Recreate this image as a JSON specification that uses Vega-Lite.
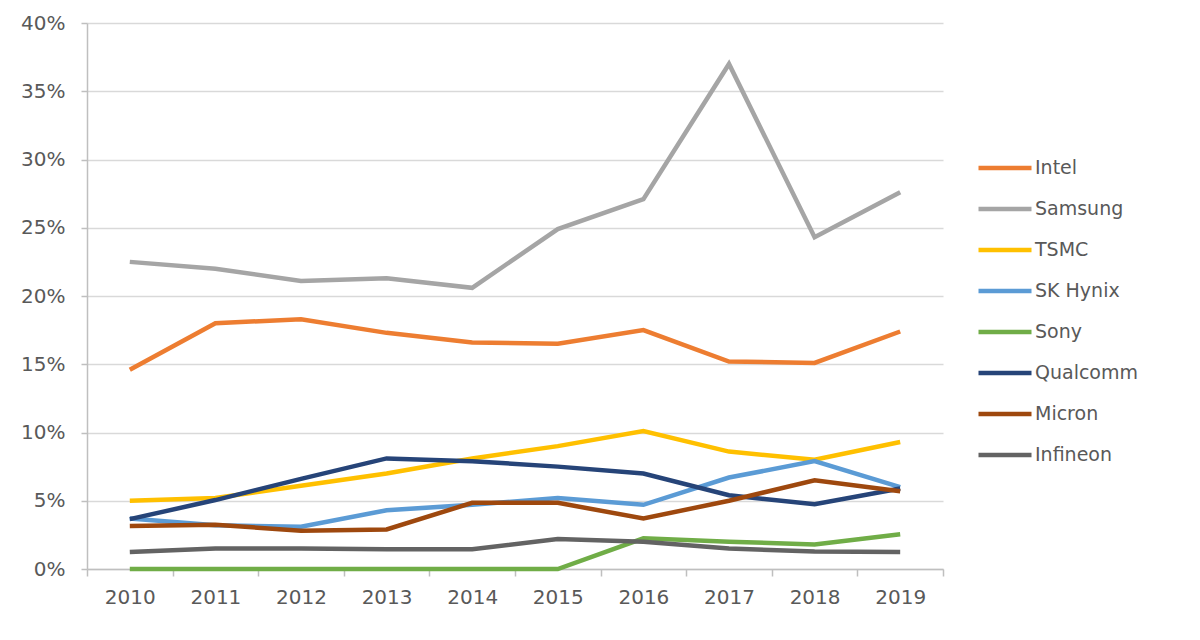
{
  "$schema": "https://vega.github.io/schema/vega-lite/v6.json",
  "width": 856,
  "height": 546,
  "autosize": {"type": "none"},
  "padding": {"left": 87, "top": 23, "right": 257, "bottom": 71},
  "background": "white",
  "config": {
    "view": {"stroke": null},
    "font": "DejaVu Sans",
    "axis": {"labelColor": "#595959", "labelFont": "DejaVu Sans", "labelFontSize": 20, "domainColor": "#BFBFBF", "tickColor": "#BFBFBF", "domainWidth": 1.5, "tickWidth": 1.5, "title": null}
  },
  "data": {
    "values": [
      {"year": "2010", "company": "Intel", "share": 0.146},
      {"year": "2011", "company": "Intel", "share": 0.180},
      {"year": "2012", "company": "Intel", "share": 0.183},
      {"year": "2013", "company": "Intel", "share": 0.173},
      {"year": "2014", "company": "Intel", "share": 0.166},
      {"year": "2015", "company": "Intel", "share": 0.165},
      {"year": "2016", "company": "Intel", "share": 0.175},
      {"year": "2017", "company": "Intel", "share": 0.152},
      {"year": "2018", "company": "Intel", "share": 0.151},
      {"year": "2019", "company": "Intel", "share": 0.174},
      {"year": "2010", "company": "Samsung", "share": 0.225},
      {"year": "2011", "company": "Samsung", "share": 0.220},
      {"year": "2012", "company": "Samsung", "share": 0.211},
      {"year": "2013", "company": "Samsung", "share": 0.213},
      {"year": "2014", "company": "Samsung", "share": 0.206},
      {"year": "2015", "company": "Samsung", "share": 0.249},
      {"year": "2016", "company": "Samsung", "share": 0.271},
      {"year": "2017", "company": "Samsung", "share": 0.370},
      {"year": "2018", "company": "Samsung", "share": 0.243},
      {"year": "2019", "company": "Samsung", "share": 0.276},
      {"year": "2010", "company": "TSMC", "share": 0.050},
      {"year": "2011", "company": "TSMC", "share": 0.052},
      {"year": "2012", "company": "TSMC", "share": 0.061},
      {"year": "2013", "company": "TSMC", "share": 0.070},
      {"year": "2014", "company": "TSMC", "share": 0.081},
      {"year": "2015", "company": "TSMC", "share": 0.090},
      {"year": "2016", "company": "TSMC", "share": 0.101},
      {"year": "2017", "company": "TSMC", "share": 0.086},
      {"year": "2018", "company": "TSMC", "share": 0.080},
      {"year": "2019", "company": "TSMC", "share": 0.093},
      {"year": "2010", "company": "SK Hynix", "share": 0.037},
      {"year": "2011", "company": "SK Hynix", "share": 0.032},
      {"year": "2012", "company": "SK Hynix", "share": 0.031},
      {"year": "2013", "company": "SK Hynix", "share": 0.043},
      {"year": "2014", "company": "SK Hynix", "share": 0.047},
      {"year": "2015", "company": "SK Hynix", "share": 0.052},
      {"year": "2016", "company": "SK Hynix", "share": 0.047},
      {"year": "2017", "company": "SK Hynix", "share": 0.067},
      {"year": "2018", "company": "SK Hynix", "share": 0.079},
      {"year": "2019", "company": "SK Hynix", "share": 0.060},
      {"year": "2010", "company": "Sony", "share": 0.0},
      {"year": "2011", "company": "Sony", "share": 0.0},
      {"year": "2012", "company": "Sony", "share": 0.0},
      {"year": "2013", "company": "Sony", "share": 0.0},
      {"year": "2014", "company": "Sony", "share": 0.0},
      {"year": "2015", "company": "Sony", "share": 0.0},
      {"year": "2016", "company": "Sony", "share": 0.0225},
      {"year": "2017", "company": "Sony", "share": 0.020},
      {"year": "2018", "company": "Sony", "share": 0.018},
      {"year": "2019", "company": "Sony", "share": 0.0255},
      {"year": "2010", "company": "Qualcomm", "share": 0.0365},
      {"year": "2011", "company": "Qualcomm", "share": 0.0505},
      {"year": "2012", "company": "Qualcomm", "share": 0.066},
      {"year": "2013", "company": "Qualcomm", "share": 0.081},
      {"year": "2014", "company": "Qualcomm", "share": 0.079},
      {"year": "2015", "company": "Qualcomm", "share": 0.075},
      {"year": "2016", "company": "Qualcomm", "share": 0.070},
      {"year": "2017", "company": "Qualcomm", "share": 0.054},
      {"year": "2018", "company": "Qualcomm", "share": 0.0475},
      {"year": "2019", "company": "Qualcomm", "share": 0.059},
      {"year": "2010", "company": "Micron", "share": 0.0315},
      {"year": "2011", "company": "Micron", "share": 0.0325},
      {"year": "2012", "company": "Micron", "share": 0.028},
      {"year": "2013", "company": "Micron", "share": 0.029},
      {"year": "2014", "company": "Micron", "share": 0.0485},
      {"year": "2015", "company": "Micron", "share": 0.0485},
      {"year": "2016", "company": "Micron", "share": 0.037},
      {"year": "2017", "company": "Micron", "share": 0.050},
      {"year": "2018", "company": "Micron", "share": 0.065},
      {"year": "2019", "company": "Micron", "share": 0.057},
      {"year": "2010", "company": "Infineon", "share": 0.0125},
      {"year": "2011", "company": "Infineon", "share": 0.015},
      {"year": "2012", "company": "Infineon", "share": 0.015},
      {"year": "2013", "company": "Infineon", "share": 0.0145},
      {"year": "2014", "company": "Infineon", "share": 0.0145},
      {"year": "2015", "company": "Infineon", "share": 0.022},
      {"year": "2016", "company": "Infineon", "share": 0.020},
      {"year": "2017", "company": "Infineon", "share": 0.015},
      {"year": "2018", "company": "Infineon", "share": 0.0128},
      {"year": "2019", "company": "Infineon", "share": 0.0125}
    ]
  },
  "mark": {"type": "line", "strokeWidth": 4.5, "strokeCap": "butt", "strokeJoin": "miter"},
  "encoding": {
    "x": {
      "field": "year",
      "type": "ordinal",
      "scale": {"type": "band", "paddingInner": 0, "paddingOuter": 0},
      "axis": {"labelAngle": 0, "tickBand": "extent", "tickSize": 7, "labelPadding": 11, "grid": false}
    },
    "y": {
      "field": "share",
      "type": "quantitative",
      "scale": {"domain": [0, 0.4], "nice": false},
      "axis": {"values": [0, 0.05, 0.1, 0.15, 0.2, 0.25, 0.3, 0.35, 0.4], "format": ".0%", "tickSize": 6, "labelPadding": 16, "grid": true, "gridColor": "#D9D9D9", "gridWidth": 1.5}
    },
    "color": {
      "field": "company",
      "type": "nominal",
      "scale": {
        "domain": ["Intel", "Samsung", "TSMC", "SK Hynix", "Sony", "Qualcomm", "Micron", "Infineon"],
        "range": ["#ED7D31", "#A5A5A5", "#FFC000", "#5B9BD5", "#70AD47", "#264478", "#9E480E", "#636363"]
      },
      "legend": {
        "title": null,
        "orient": "none",
        "legendX": 889,
        "legendY": 116,
        "symbolType": "stroke",
        "symbolSize": 2809,
        "symbolStrokeWidth": 4.5,
        "labelFontSize": 19,
        "labelColor": "#595959",
        "labelOffset": 1,
        "rowPadding": 2
      }
    }
  }
}
